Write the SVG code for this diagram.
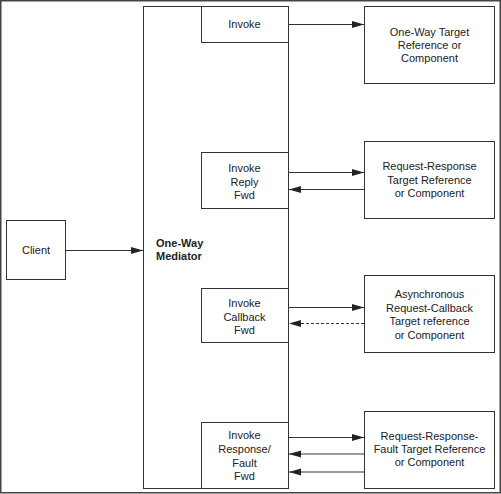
<svg xmlns="http://www.w3.org/2000/svg" width="501" height="494" viewBox="0 0 501 494">
<defs>
<marker id="ah" markerUnits="userSpaceOnUse" markerWidth="12" markerHeight="8" refX="12" refY="4" orient="auto">
<path d="M0,0.5 L12,4 L0,7.5 z" fill="#222"/>
</marker>
</defs>
<style>
.box{fill:#fff;stroke:#333;stroke-width:1}
.t{font-family:"Liberation Sans",Arial,sans-serif;font-size:11px;fill:#222;text-anchor:middle}
.b{font-family:"Liberation Sans",Arial,sans-serif;font-size:11px;fill:#222;font-weight:bold}
.c{stroke:#333;stroke-width:1;fill:none}
</style>
<rect x="0.75" y="0.75" width="499.5" height="492" fill="#fff" stroke="#444" stroke-width="1.5"/>
<g id="mediator">
<rect class="box" x="143.5" y="6.5" width="145" height="482"/>
<text class="b" x="156" y="247">One-Way</text>
<text class="b" x="156" y="260">Mediator</text>
</g>
<g id="client">
<rect class="box" x="6.5" y="220.5" width="59" height="59"/>
<text class="t" x="36" y="254">Client</text>
</g>
<g id="invoke">
<rect class="box" x="201.5" y="6.5" width="87" height="36"/>
<text class="t" x="244.5" y="28">Invoke</text>
</g>
<g id="invokeReply">
<rect class="box" x="201.5" y="152.5" width="87" height="56"/>
<text class="t" x="244.5" y="172">Invoke</text>
<text class="t" x="244.5" y="185.5">Reply</text>
<text class="t" x="244.5" y="199">Fwd</text>
</g>
<g id="invokeCallback">
<rect class="box" x="201.5" y="288.5" width="87" height="54"/>
<text class="t" x="244.5" y="307">Invoke</text>
<text class="t" x="244.5" y="320.5">Callback</text>
<text class="t" x="244.5" y="334">Fwd</text>
</g>
<g id="invokeResponse">
<rect class="box" x="201.5" y="422.5" width="87" height="66"/>
<text class="t" x="244.5" y="439">Invoke</text>
<text class="t" x="244.5" y="453">Response/</text>
<text class="t" x="244.5" y="466.5">Fault</text>
<text class="t" x="244.5" y="480">Fwd</text>
</g>
<g id="oneWayTarget">
<rect class="box" x="364.5" y="6.5" width="130" height="77"/>
<text class="t" x="429.5" y="36">One-Way Target</text>
<text class="t" x="429.5" y="49">Reference or</text>
<text class="t" x="429.5" y="62">Component</text>
</g>
<g id="reqRespTarget">
<rect class="box" x="364.5" y="141.5" width="130" height="77"/>
<text class="t" x="429.5" y="170">Request-Response</text>
<text class="t" x="429.5" y="183.5">Target Reference</text>
<text class="t" x="429.5" y="197">or Component</text>
</g>
<g id="asyncTarget">
<rect class="box" x="364.5" y="275.5" width="130" height="77"/>
<text class="t" x="429.5" y="298">Asynchronous</text>
<text class="t" x="429.5" y="311.5">Request-Callback</text>
<text class="t" x="429.5" y="325">Target reference</text>
<text class="t" x="429.5" y="338.5">or Component</text>
</g>
<g id="faultTarget">
<rect class="box" x="364.5" y="411.5" width="130" height="77"/>
<text class="t" x="429.5" y="440">Request-Response-</text>
<text class="t" x="429.5" y="453">Fault Target Reference</text>
<text class="t" x="429.5" y="466">or Component</text>
</g>
<g id="connectors">
<line class="c" x1="66" y1="250.5" x2="143" y2="250.5" marker-end="url(#ah)"/>
<line class="c" x1="289" y1="24.5" x2="364" y2="24.5" marker-end="url(#ah)"/>
<line class="c" x1="289" y1="172.5" x2="364" y2="172.5" marker-end="url(#ah)"/>
<line class="c" x1="364" y1="189.5" x2="289" y2="189.5" marker-end="url(#ah)"/>
<line class="c" x1="289" y1="307.5" x2="364" y2="307.5" marker-end="url(#ah)"/>
<line class="c" x1="364" y1="323.5" x2="289" y2="323.5" stroke-dasharray="3,2" marker-end="url(#ah)"/>
<line class="c" x1="289" y1="437.5" x2="364" y2="437.5" marker-end="url(#ah)"/>
<line class="c" x1="364" y1="454" x2="289" y2="454" marker-end="url(#ah)"/>
<line class="c" x1="364" y1="472" x2="289" y2="472" stroke-width="2" marker-end="url(#ah)"/>
</g>
</svg>
